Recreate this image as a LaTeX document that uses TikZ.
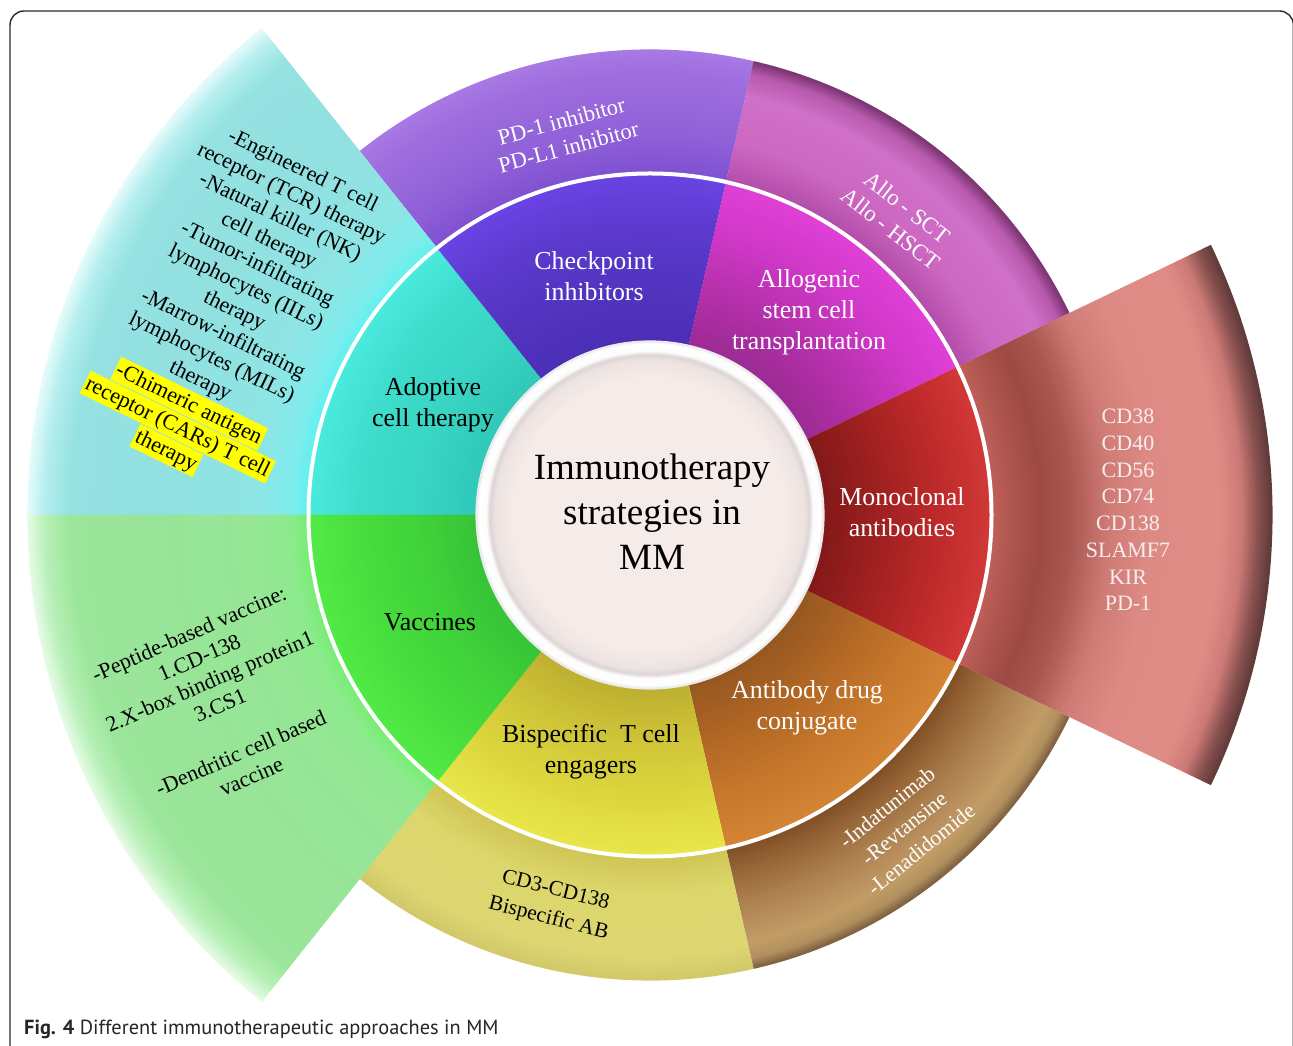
\documentclass[tikz,border=0pt]{standalone}
\usepackage{fontspec}
\setmainfont{Liberation Serif}
\newfontfamily\capfont{PT Sans}

\definecolor{hlyellow}{HTML}{FFFF00}
\definecolor{listtext}{HTML}{F6EEEE}
\definecolor{framegray}{HTML}{2A2A2A}

% radial colour band on an annular sector:
% #1,#2 start/end angle, #3,#4 inner/outer radius (pt), #5 colour at #3, #6 colour at #4
\newcommand{\band}[6]{%
  \pgfmathtruncatemacro{\bn}{ceil((#4-#3)/2)}%
  \foreach \i in {1,...,\bn}{%
    \pgfmathsetmacro{\ra}{#3+(#4-#3)*(\i-1)/\bn}%
    \pgfmathsetmacro{\rb}{#3+(#4-#3)*\i/\bn+0.6}%
    \pgfmathsetmacro{\pc}{100-100*(\i-0.5)/\bn}%
    \fill[#5!\pc!#6] (#1:\ra pt) arc[start angle=#1,end angle=#2,radius=\ra pt]
      -- (#2:\rb pt) arc[start angle=#2,end angle=#1,radius=\rb pt] -- cycle;
  }}
\newcommand{\hexband}[6]{%
  \definecolor{bandA}{HTML}{#5}\definecolor{bandB}{HTML}{#6}%
  \band{#1}{#2}{#3}{#4}{bandA}{bandB}}

% highlighted line
\newcommand{\hlline}[1]{{\setlength{\fboxsep}{0pt}\colorbox{hlyellow}{\kern2pt\rule[-6pt]{0pt}{25pt}#1\kern2pt}}}

\tikzset{
  core/.style={align=center, inner sep=0pt, font=\fontsize{37}{45}\selectfont},
  seclab/.style={align=center, inner sep=0pt, font=\fontsize{25.9}{31}\selectfont},
  ringlab/.style={align=center, inner sep=0pt, font=\fontsize{22.5}{27}\selectfont},
  wedgelab/.style={align=center, inner sep=0pt, font=\fontsize{22}{26}\selectfont},
}

\begin{document}
\begin{tikzpicture}[x=1pt,y=1pt]
\useasboundingbox (0,0) rectangle (1293,1046);
\fill[white] (0,0) rectangle (1293,1046);

% page frame
\draw[framegray, line width=1.4pt, rounded corners=14pt] (10,-20) -- (10,1035) -- (1293.4,1035) -- (1293.4,-20);

\begin{scope}[shift={(650,531)}]
  % ---- outer ring: checkpoint inhibitors ----
  \hexband{77.143}{128.571}{339}{380}{7E50D0}{9060D8}
  \hexband{77.143}{128.571}{380}{440}{9060D8}{9E6EDE}
  \hexband{77.143}{128.571}{440}{465}{9E6EDE}{A878E4}
  % ---- outer ring: allogenic transplantation ----
  \hexband{25.714}{77.143}{339}{380}{B04CA8}{CC68C2}
  \hexband{25.714}{77.143}{380}{430}{CC68C2}{D070C8}
  \hexband{25.714}{77.143}{430}{452}{D070C8}{B85AAE}
  \hexband{25.714}{77.143}{452}{465}{B85AAE}{7A3470}
  % ---- outer ring: antibody drug conjugate ----
  \hexband{-77.143}{-25.714}{339}{365}{7C4C22}{966436}
  \hexband{-77.143}{-25.714}{365}{400}{966436}{AE8252}
  \hexband{-77.143}{-25.714}{400}{440}{AE8252}{C29C66}
  \hexband{-77.143}{-25.714}{440}{455}{C29C66}{B0905E}
  \hexband{-77.143}{-25.714}{455}{465}{B0905E}{7E6040}
  % ---- outer ring: bispecific engagers ----
  \hexband{-128.571}{-77.143}{339}{380}{CEC452}{DCD66C}
  \hexband{-128.571}{-77.143}{380}{440}{DCD66C}{DDD672}
  \hexband{-128.571}{-77.143}{440}{465}{DDD672}{D2CA6A}
  % ---- wedge: adoptive cell therapy ----
  \hexband{128.571}{180}{339}{360}{5CF2F0}{80ECEC}
  \hexband{128.571}{180}{360}{400}{80ECEC}{8FE4E4}
  \hexband{128.571}{180}{400}{500}{8FE4E4}{92E0E0}
  \hexband{128.571}{180}{500}{580}{92E0E0}{96E2E2}
  \hexband{128.571}{180}{580}{605}{96E2E2}{B4EEEE}
  \hexband{128.571}{180}{605}{622}{B4EEEE}{E6FBFB}
  % ---- wedge: vaccines ----
  \hexband{180}{231.429}{339}{360}{74EE70}{8CEA8C}
  \hexband{180}{231.429}{360}{400}{8CEA8C}{96E696}
  \hexband{180}{231.429}{400}{500}{96E696}{98E498}
  \hexband{180}{231.429}{500}{580}{98E498}{9CE69C}
  \hexband{180}{231.429}{580}{605}{9CE69C}{B8F0B8}
  \hexband{180}{231.429}{605}{622}{B8F0B8}{E6FBE6}
  % ---- wedge: monoclonal antibodies ----
  \hexband{-25.714}{25.714}{339}{360}{C4625C}{B05650}
  \hexband{-25.714}{25.714}{360}{390}{B05650}{9E4A44}
  \hexband{-25.714}{25.714}{390}{420}{9E4A44}{A85650}
  \hexband{-25.714}{25.714}{420}{460}{A85650}{D07C76}
  \hexband{-25.714}{25.714}{460}{500}{D07C76}{DE8A84}
  \hexband{-25.714}{25.714}{500}{570}{DE8A84}{E08C86}
  \hexband{-25.714}{25.714}{570}{592}{E08C86}{CC7A76}
  \hexband{-25.714}{25.714}{592}{608}{CC7A76}{8A5250}
  \hexband{-25.714}{25.714}{608}{622}{8A5250}{5E3A38}

  % ---- inner ring of approaches ----
  \hexband{128.571}{180}{170}{230}{30C8B8}{38D4C4}
  \hexband{128.571}{180}{230}{290}{38D4C4}{3EDCCC}
  \hexband{128.571}{180}{290}{341}{3EDCCC}{4AEADE}
  \hexband{77.143}{128.571}{170}{230}{4A2EB4}{5234C0}
  \hexband{77.143}{128.571}{230}{290}{5234C0}{5C3ACE}
  \hexband{77.143}{128.571}{290}{341}{5C3ACE}{6A44E4}
  \hexband{25.714}{77.143}{170}{230}{9A2A92}{B430AA}
  \hexband{25.714}{77.143}{230}{290}{B430AA}{D038C8}
  \hexband{25.714}{77.143}{290}{341}{D038C8}{E040D6}
  \hexband{-25.714}{25.714}{170}{230}{801818}{A02020}
  \hexband{-25.714}{25.714}{230}{290}{A02020}{BE2A2A}
  \hexband{-25.714}{25.714}{290}{341}{BE2A2A}{D23838}
  \hexband{-77.143}{-25.714}{170}{230}{945620}{B06624}
  \hexband{-77.143}{-25.714}{230}{290}{B06624}{C8782C}
  \hexband{-77.143}{-25.714}{290}{341}{C8782C}{D48434}
  \hexband{-128.571}{-77.143}{170}{230}{BCAE30}{D0C638}
  \hexband{-128.571}{-77.143}{230}{290}{D0C638}{DED83E}
  \hexband{-128.571}{-77.143}{290}{341}{DED83E}{E8E64A}
  \hexband{180}{231.429}{170}{230}{36C236}{40D23A}
  \hexband{180}{231.429}{230}{290}{40D23A}{48DE3E}
  \hexband{180}{231.429}{290}{341}{48DE3E}{52EA46}

  % white separating ring
  \fill[white, even odd rule] (0,0) circle[radius=343.5pt] (0,0) circle[radius=339.5pt];

  % centre disc with its white rim
  \fill[fill={rgb,255:red,245;green,235;blue,232}] (0,0) circle[radius=174pt];
  \hexband{0}{360}{136}{155}{F5EBE8}{EDE3E1}
  \hexband{0}{360}{155}{160}{EDE3E1}{DCD5D4}
  \hexband{0}{360}{160}{163}{DCD5D4}{F8F8F8}
  \hexband{0}{360}{163}{171}{FCFCFC}{FFFFFF}
  \hexband{0}{360}{171}{174}{FFFFFF}{E4E4E4}
  \node[core] (centre) at (2,3) {Immunotherapy\\strategies in\\MM};

  % inner labels
  \node[seclab] (adoptive) at (-217,110) {Adoptive\\cell therapy};
  \node[seclab, text=white] (checkpoint) at (-56,239) {Checkpoint\\inhibitors};
  \node[seclab, text=white] (allogenic) at (159,203) {Allogenic\\stem cell\\transplantation};
  \node[seclab, text=white] (monoclonal) at (252,3) {Monoclonal\\antibodies};
  \node[seclab, text=white] (adc) at (157,-193) {Antibody drug\\conjugate};
  \node[seclab] (bispecific) at (-59,-237) {Bispecific~ T cell\\engagers};
  \node[seclab] (vaccines) at (-220,-107) {Vaccines};

  % outer ring labels
  \node[ringlab, text=white, rotate=15] (pd) at (-85,381) {PD-1 inhibitor\\PD-L1 inhibitor};
  \node[ringlab, text=white, rotate=-38, font=\fontsize{23}{27}\selectfont] (allo) at (249,297) {Allo - SCT\\Allo - HSCT};
  \node[ringlab, text=white, rotate=39, font=\fontsize{21.5}{27}\selectfont] (drugs) at (254,-313) {-Indatunimab\\-Revtansine\\-Lenadidomide};
  \node[ringlab, rotate=-14, font=\fontsize{21.5}{29}\selectfont] (bsab) at (-98,-390) {CD3-CD138\\Bispecific AB};

  % wedge labels
  \node[wedgelab, rotate=-26] (cells) at (-416,203) {-Engineered T cell\\receptor (TCR) therapy\\-Natural killer (NK)\\cell therapy\\-Tumor-infiltrating\\lymphocytes (IILs)\\therapy\\-Marrow-infiltrating\\lymphocytes (MILs)\\therapy\\\hlline{-Chimeric antigen}\\\hlline{receptor (CARs) T cell}\\\hlline{therapy}};
  \node[wedgelab, rotate=23.5] (vacc) at (-430,-190) {-Peptide-based vaccine:\\1.CD-138\\2.X-box binding protein1\\3.CS1\\[26pt]-Dendritic cell based\\vaccine};
  \node[wedgelab, text=listtext, font=\fontsize{22}{26.7}\selectfont] (targets) at (478,5) {CD38\\CD40\\CD56\\CD74\\CD138\\SLAMF7\\KIR\\PD-1};
\end{scope}

% caption
\node[anchor=base west, inner sep=0pt, text=black!85, font=\capfont\fontsize{20.4}{24}\selectfont] (caption) at (24,11)
  {\textbf{Fig. 4} Different immunotherapeutic approaches in MM};
\end{tikzpicture}
\end{document}
